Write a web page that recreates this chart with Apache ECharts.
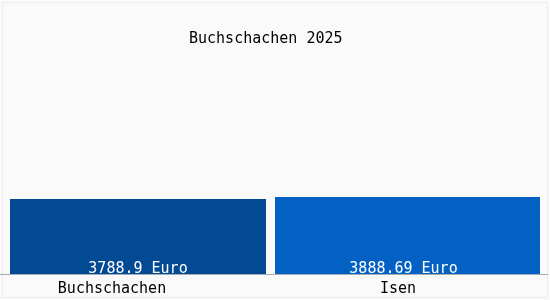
<!DOCTYPE html>
<html>
<head>
<meta charset="utf-8">
<script src="https://cdn.jsdelivr.net/npm/echarts@6/dist/echarts.min.js"></script>
<style>html,body{margin:0;padding:0;background:#fafafa}#c{width:550px;height:300px}</style>
</head>
<body>
<div id="c"></div>
<script>
const titleText = 'Buchschachen 2025';
const categories = ['Buchschachen', 'Isen'];
const values = [3788.9, 3888.69];
const unit = ' Euro';
const colors = ['#034a94', '#0461c4'];
const yMax = 11000;

const font = 'DejaVu Sans Mono';
const chart = echarts.init(document.getElementById('c'), null, {renderer: 'canvas'});

const gridDefs = [
  {left: 10, width: 256, labelPad: [0, 52, 0, 0], valPad: [0, 0, 0, 0]},
  {left: 275, width: 265, labelPad: [0, 19, 0, 0], valPad: [0, 8, 0, 0]}
];

const grids = gridDefs.map(g => ({left: g.left, width: g.width, top: 56, bottom: 26}));
grids.push({left: 0, right: 2, top: 56, bottom: 26});

const xAxes = categories.map((c, i) => ({
  type: 'category', gridIndex: i, data: [c],
  axisLine: {show: false}, axisTick: {show: false},
  axisLabel: {margin: 8, color: '#000', fontFamily: font, fontSize: 15, padding: gridDefs[i].labelPad}
}));
xAxes.push({type: 'category', gridIndex: 2, data: [''],
  axisLine: {show: true, lineStyle: {color: '#a4acb4', width: 1}},
  axisTick: {show: false}, axisLabel: {show: false}});

const yAxes = [0, 1, 2].map(i => ({
  type: 'value', gridIndex: i, min: 0, max: yMax, show: false, splitLine: {show: false}
}));

const series = categories.map((c, i) => ({
  type: 'bar', xAxisIndex: i, yAxisIndex: i, barWidth: '100%',
  data: [values[i]],
  itemStyle: {color: colors[i]},
  label: {show: true, position: 'insideBottom', distance: -3, color: '#fff',
    fontFamily: font, fontSize: 15, padding: gridDefs[i].valPad, formatter: p => p.value + unit},
  silent: true, animation: false
}));

chart.setOption({
  backgroundColor: '#fafafa',
  animation: false,
  title: {text: titleText, left: 184, top: 27,
    textStyle: {fontFamily: font, fontSize: 15, fontWeight: 'normal', color: '#000'}},
  grid: grids, xAxis: xAxes, yAxis: yAxes, series: series,
  graphic: [{type: 'rect', shape: {x: 2.5, y: 2.5, width: 545, height: 295},
    style: {fill: 'none', stroke: '#ececec', lineWidth: 1}, silent: true, z: -1}]
});
</script>
</body>
</html>
